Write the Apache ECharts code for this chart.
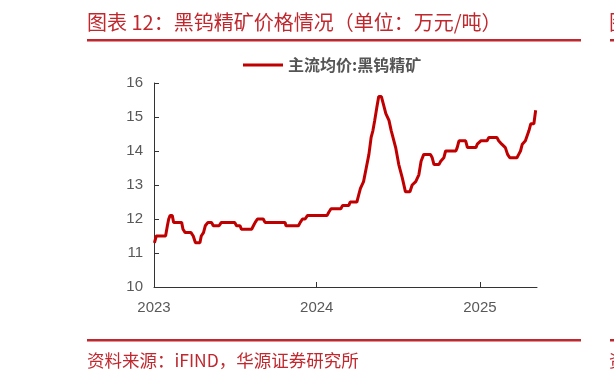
<!DOCTYPE html>
<html><head><meta charset="utf-8">
<script src="https://cdn.jsdelivr.net/npm/echarts@6/dist/echarts.min.js"></script>
<style>html,body{margin:0;padding:0;background:#fff}#c{width:614px;height:371px}</style>
</head><body><div id="c"></div>
<script>
var dates = ['2023-01-02','2023-01-06','2023-01-27','2023-01-31','2023-02-03','2023-02-06','2023-02-11','2023-02-14','2023-03-04','2023-03-07','2023-03-12','2023-03-25','2023-03-30','2023-04-04','2023-04-14','2023-04-17','2023-04-22','2023-04-26','2023-05-02','2023-05-10','2023-05-14','2023-05-27','2023-06-01','2023-07-01','2023-07-05','2023-07-13','2023-07-16','2023-08-08','2023-08-12','2023-08-16','2023-08-21','2023-09-03','2023-09-07','2023-10-22','2023-10-24','2023-11-21','2023-11-25','2023-11-30','2023-12-06','2023-12-11','2024-01-24','2024-01-28','2024-02-02','2024-02-24','2024-02-28','2024-03-13','2024-03-16','2024-03-31','2024-04-04','2024-04-08','2024-04-15','2024-04-21','2024-04-27','2024-05-02','2024-05-06','2024-05-10','2024-05-15','2024-05-19','2024-05-25','2024-05-29','2024-06-04','2024-06-11','2024-06-16','2024-06-20','2024-06-26','2024-07-03','2024-07-11','2024-07-18','2024-07-28','2024-08-02','2024-08-10','2024-08-17','2024-08-22','2024-08-28','2024-09-12','2024-09-16','2024-09-20','2024-10-01','2024-10-05','2024-10-12','2024-10-16','2024-11-08','2024-11-11','2024-11-15','2024-11-30','2024-12-04','2024-12-23','2024-12-26','2025-01-03','2025-01-17','2025-01-21','2025-02-08','2025-02-12','2025-02-19','2025-02-27','2025-03-04','2025-03-09','2025-03-25','2025-03-29','2025-04-02','2025-04-06','2025-04-13','2025-04-21','2025-04-25','2025-05-02','2025-05-06'];
var prices = [11.3,11.5,11.5,11.8,12.0,12.1,12.1,11.9,11.9,11.7,11.6,11.6,11.5,11.3,11.3,11.5,11.6,11.8,11.9,11.9,11.8,11.8,11.9,11.9,11.8,11.8,11.7,11.7,11.8,11.9,12.0,12.0,11.9,11.9,11.8,11.8,11.9,12.0,12.0,12.1,12.1,12.2,12.3,12.3,12.4,12.4,12.5,12.5,12.7,12.9,13.1,13.5,13.9,14.4,14.6,14.9,15.3,15.6,15.6,15.4,15.1,14.9,14.6,14.4,14.1,13.6,13.2,12.8,12.8,13.0,13.1,13.3,13.7,13.9,13.9,13.8,13.6,13.6,13.7,13.8,14.0,14.0,14.1,14.3,14.3,14.1,14.1,14.2,14.3,14.3,14.4,14.4,14.3,14.2,14.1,13.9,13.8,13.8,13.9,14.0,14.2,14.3,14.6,14.8,14.8,15.2];
var seriesName = '主流均价:黑钨精矿';
var titleText = '图表 12：黑钨精矿价格情况（单位：万元/吨）';
var sourceText = '资料来源：iFIND，华源证券研究所';
var xMin = '2023-01-01', xMax = '2025-05-09';
var yMin = 10, yMax = 16, yStep = 1;

var red = '#C00000', titleRed = '#C0282E';
var chart = echarts.init(document.getElementById('c'), null, {renderer:'canvas'});
chart.setOption({
  animation:false,
  backgroundColor:'#fff',
  textStyle:{fontFamily:'Liberation Sans, Arial, sans-serif'},
  legend:{
    left:238, top:52, icon:'rect', itemWidth:40, itemHeight:3, itemGap:5,
    textStyle:{fontSize:16, fontWeight:'bold', color:'#555555', fontFamily:'"Noto Sans CJK SC", sans-serif'},
    data:[seriesName]
  },
  grid:{left:154, right:77, top:83, bottom:84, containLabel:false},
  xAxis:{
    type:'time', min:xMin, max:xMax,
    minInterval:365*24*3600*1000, maxInterval:366*24*3600*1000,
    axisLine:{lineStyle:{color:'#333', width:1}},
    axisTick:{inside:true, length:5, lineStyle:{color:'#333'}},
    axisLabel:{color:'#595959', fontSize:15, margin:13, formatter:'{yyyy}', showMaxLabel:false, showMinLabel:true},
    splitLine:{show:false}
  },
  yAxis:{
    type:'value', min:yMin, max:yMax, interval:yStep,
    axisLine:{show:true, lineStyle:{color:'#333', width:1}},
    axisTick:{show:true, inside:true, length:5, lineStyle:{color:'#333'}},
    axisLabel:{color:'#595959', fontSize:15, margin:11},
    splitLine:{show:false}
  },
  series:[{
    name:seriesName, type:'line', showSymbol:false, symbol:'none',
    lineStyle:{color:red, width:3}, itemStyle:{color:red},
    data: dates.map(function(d,i){return [d, prices[i]];})
  }],
  graphic:[
    {type:'text', left:87, top:12, style:{text:titleText, fill:titleRed, fontSize:20, fontFamily:'"Noto Sans CJK SC", sans-serif'}},
    {type:'rect', shape:{x:87, y:39, width:494, height:2.5}, style:{fill:titleRed}},
    {type:'rect', shape:{x:610, y:39, width:10, height:2.5}, style:{fill:titleRed}},
    {type:'text', left:609, top:12, style:{text:'图', fill:titleRed, fontSize:20, fontFamily:'"Noto Sans CJK SC", sans-serif'}},
    {type:'rect', shape:{x:87, y:339, width:494, height:2.5}, style:{fill:titleRed}},
    {type:'rect', shape:{x:610, y:339, width:10, height:2.5}, style:{fill:titleRed}},
    {type:'text', left:87, top:352, style:{text:sourceText, fill:titleRed, fontSize:17.5, fontFamily:'"Noto Sans CJK SC", sans-serif'}},
    {type:'text', left:609, top:352, style:{text:'资', fill:titleRed, fontSize:17.5, fontFamily:'"Noto Sans CJK SC", sans-serif'}}
  ]
});
</script></body></html>
